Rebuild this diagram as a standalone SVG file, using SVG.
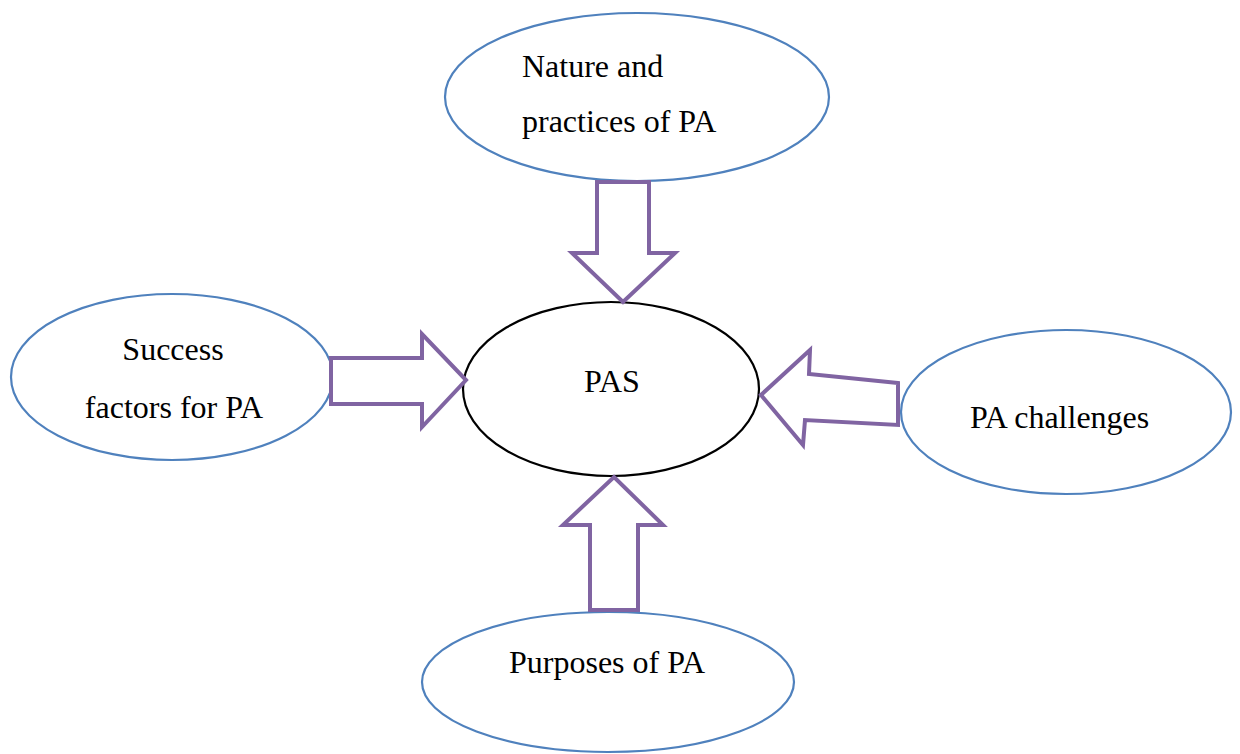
<svg xmlns="http://www.w3.org/2000/svg" width="1240" height="754" viewBox="0 0 1240 754">
<style>
.n{fill:#fff;stroke:#4F81BD;stroke-width:2.2}
.c{fill:#fff;stroke:#000;stroke-width:2.2}
.a{fill:#fff;stroke:#8064A2;stroke-width:4;stroke-linejoin:miter}
</style>
<rect width="1240" height="754" fill="#fff"/>
<g id="node-nature"><ellipse class="n" cx="637" cy="97" rx="192" ry="84"/><text font-family="Liberation Serif" font-size="32" x="522" y="77">Nature and</text><text font-family="Liberation Serif" font-size="32" x="522" y="132">practices of PA</text></g>
<g id="node-pas"><ellipse class="c" cx="611" cy="389" rx="148" ry="87"/><text font-family="Liberation Serif" font-size="32" x="612" y="392" text-anchor="middle">PAS</text></g>
<g id="node-success"><ellipse class="n" cx="172" cy="377" rx="161" ry="83"/><text font-family="Liberation Serif" font-size="32" x="173" y="360" text-anchor="middle">Success</text><text font-family="Liberation Serif" font-size="32" x="174" y="418" text-anchor="middle">factors for PA</text></g>
<g id="node-challenges"><ellipse class="n" cx="1066" cy="412" rx="165" ry="82"/><text font-family="Liberation Serif" font-size="32" x="970" y="428">PA challenges</text></g>
<g id="node-purposes"><ellipse class="n" cx="608" cy="682" rx="186" ry="70"/><text font-family="Liberation Serif" font-size="32" x="509" y="673">Purposes of PA</text></g>
<g id="connectors">
<polygon class="a" points="597,182 649,182 649,253 675,253 623,302 572,253 597,253"/>
<polygon class="a" points="331,358 422,358 422,334 466,380 422,427 422,404 331,404"/>
<polygon class="a" points="898,383 809,374 810,350 761,395 803,445 805,420 898,425"/>
<polygon class="a" points="590,610 638,610 638,525 663,525 614,477 563,525 590,525"/>
</g>
</svg>
